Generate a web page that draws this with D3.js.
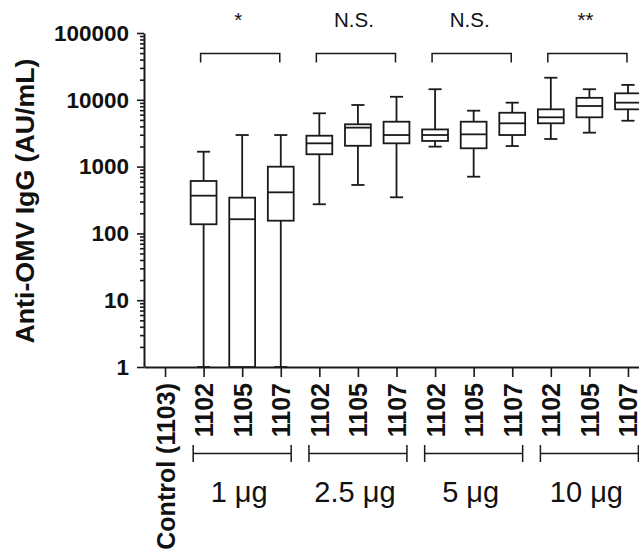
<!DOCTYPE html>
<html>
<head>
<meta charset="utf-8">
<title>Anti-OMV IgG</title>
<script src="https://d3js.org/d3.v7.min.js"></script>
<style>
body { margin: 0; background: #fff; }
svg { display: block; }
text { font-family: Arial, "Liberation Sans", sans-serif; fill: #111; }
</style>
</head>
<body>
<svg id="chart" width="639" height="552"></svg>
<script>
// categories along the x axis (index 0 is the control, no box)
var categories = ["Control (1103)", "1102", "1105", "1107", "1102", "1105", "1107",
                  "1102", "1105", "1107", "1102", "1105", "1107"];
var doseGroups = ["1 μg", "2.5 μg", "5 μg", "10 μg"];
var groupMembers = [[1, 2, 3], [4, 5, 6], [7, 8, 9], [10, 11, 12]];
var significance = ["*", "N.S.", "N.S.", "**"];

// box plot values (AU/mL)
var whiskerHigh = [null, 1670, 2970, 2970, 6280, 8360, 11100, 14400, 6870, 9060, 21400, 14400, 16700];
var q3          = [null, 609, 343, 997, 2900, 4300, 4700, 3600, 4700, 6400, 7200, 10700, 12500];
var median      = [null, 367, 163, 412, 2230, 3830, 2970, 2970, 3040, 4450, 5470, 8070, 9060];
var q1          = [null, 137, 1, 155, 1530, 2050, 2230, 2420, 1880, 2970, 4450, 5470, 7200];
var whiskerLow  = [null, 1, 1, 1, 273, 531, 347, 1990, 706, 2030, 2590, 3220, 4860];

var yTicks = [1, 10, 100, 1000, 10000, 100000];

var svg = d3.select("#chart");
var ink = "#1a1a1a";

var x = d3.scalePoint().domain(d3.range(categories.length)).range([144, 649]).padding(0.545);
var y = d3.scaleLog().domain([1, 100000]).range([367, 33]);

// minor log ticks
var minorTicks = y.ticks().filter(function (d) { return yTicks.indexOf(d) < 0; });
var yMinor = svg.append("g").attr("transform", "translate(144,0)")
	.call(d3.axisLeft(y).tickValues(minorTicks).tickSize(4).tickFormat(""));
yMinor.select(".domain").remove();

var yAxis = svg.append("g").attr("transform", "translate(144,0)")
	.call(d3.axisLeft(y).tickValues(yTicks).tickSize(7).tickSizeOuter(0).tickPadding(8).tickFormat(d3.format("d")));
yAxis.selectAll("text").attr("font-size", 22.5).attr("font-weight", "bold").attr("fill", ink);

// x axis with rotated labels
var xAxis = svg.append("g").attr("transform", "translate(0,367)")
	.call(d3.axisBottom(x).tickSize(10).tickSizeOuter(0).tickFormat(function (i) { return categories[i]; }));
xAxis.selectAll("text")
	.attr("transform", "rotate(-90)")
	.attr("x", -16)
	.attr("y", 0)
	.attr("dy", "0.36em")
	.attr("text-anchor", "end")
	.attr("font-size", 25)
	.attr("font-weight", "bold")
	.attr("fill", ink);

svg.selectAll(".domain").attr("stroke", ink).attr("stroke-width", 2);
svg.selectAll(".tick line").attr("stroke", ink).attr("stroke-width", 1.6);

// y title
svg.append("text")
	.attr("transform", "translate(34,201) rotate(-90)")
	.attr("text-anchor", "middle")
	.attr("font-size", 25)
	.attr("font-weight", "bold")
	.attr("textLength", 285)
	.attr("lengthAdjust", "spacingAndGlyphs")
	.attr("fill", ink)
	.text("Anti-OMV IgG (AU/mL)");

// boxes
var boxW = x.step() * 0.67;
var capW = x.step() * 0.34;
var idx = d3.range(categories.length).filter(function (i) { return median[i] !== null; });

var boxes = svg.append("g").attr("fill", "none").attr("stroke", ink).attr("stroke-width", 1.8)
	.selectAll("g").data(idx).enter().append("g");

boxes.append("line")
	.attr("x1", function (i) { return x(i); }).attr("x2", function (i) { return x(i); })
	.attr("y1", function (i) { return y(whiskerHigh[i]); }).attr("y2", function (i) { return y(q3[i]); });
boxes.append("line")
	.attr("x1", function (i) { return x(i); }).attr("x2", function (i) { return x(i); })
	.attr("y1", function (i) { return y(q1[i]); }).attr("y2", function (i) { return y(whiskerLow[i]); });
boxes.append("line")
	.attr("x1", function (i) { return x(i) - capW / 2; }).attr("x2", function (i) { return x(i) + capW / 2; })
	.attr("y1", function (i) { return y(whiskerHigh[i]); }).attr("y2", function (i) { return y(whiskerHigh[i]); });
boxes.append("line")
	.attr("x1", function (i) { return x(i) - capW / 2; }).attr("x2", function (i) { return x(i) + capW / 2; })
	.attr("y1", function (i) { return y(whiskerLow[i]); }).attr("y2", function (i) { return y(whiskerLow[i]); });
boxes.append("rect")
	.attr("x", function (i) { return x(i) - boxW / 2; })
	.attr("width", boxW)
	.attr("y", function (i) { return y(q3[i]); })
	.attr("height", function (i) { return y(q1[i]) - y(q3[i]); })
	.attr("fill", "#fff");
boxes.append("line")
	.attr("x1", function (i) { return x(i) - boxW / 2; }).attr("x2", function (i) { return x(i) + boxW / 2; })
	.attr("y1", function (i) { return y(median[i]); }).attr("y2", function (i) { return y(median[i]); });

// significance brackets on top
var topY = 53.5, topLeg = 9;
groupMembers.forEach(function (m, k) {
	var x0 = x(m[0]) - 3, x1 = x(m[m.length - 1]) - 1;
	svg.append("path")
		.attr("d", "M" + x0 + "," + (topY + topLeg) + "V" + topY + "H" + x1 + "V" + (topY + topLeg))
		.attr("fill", "none").attr("stroke", ink).attr("stroke-width", 1.5);
	svg.append("text")
		.attr("x", (x0 + x1) / 2 - 2)
		.attr("y", 26.5)
		.attr("text-anchor", "middle")
		.attr("font-size", 20.5)
		.attr("fill", ink)
		.text(significance[k]);
});

// dose group brackets below the axis
var botY = 453.5, botCap = 8.5;
groupMembers.forEach(function (m, k) {
	var x0 = x(m[0]) - x.step() * 0.27, x1 = x(m[m.length - 1]) + x.step() * 0.27;
	svg.append("path")
		.attr("d", "M" + x0 + "," + (botY - botCap) + "V" + (botY + botCap) +
			"M" + x0 + "," + botY + "H" + x1 +
			"M" + x1 + "," + (botY - botCap) + "V" + (botY + botCap))
		.attr("fill", "none").attr("stroke", ink).attr("stroke-width", 1.5);
	svg.append("text")
		.attr("x", x(m[1]) - 3)
		.attr("y", 502)
		.attr("text-anchor", "middle")
		.attr("font-size", 29)
		.attr("fill", ink)
		.text(doseGroups[k]);
});
</script>
</body>
</html>
